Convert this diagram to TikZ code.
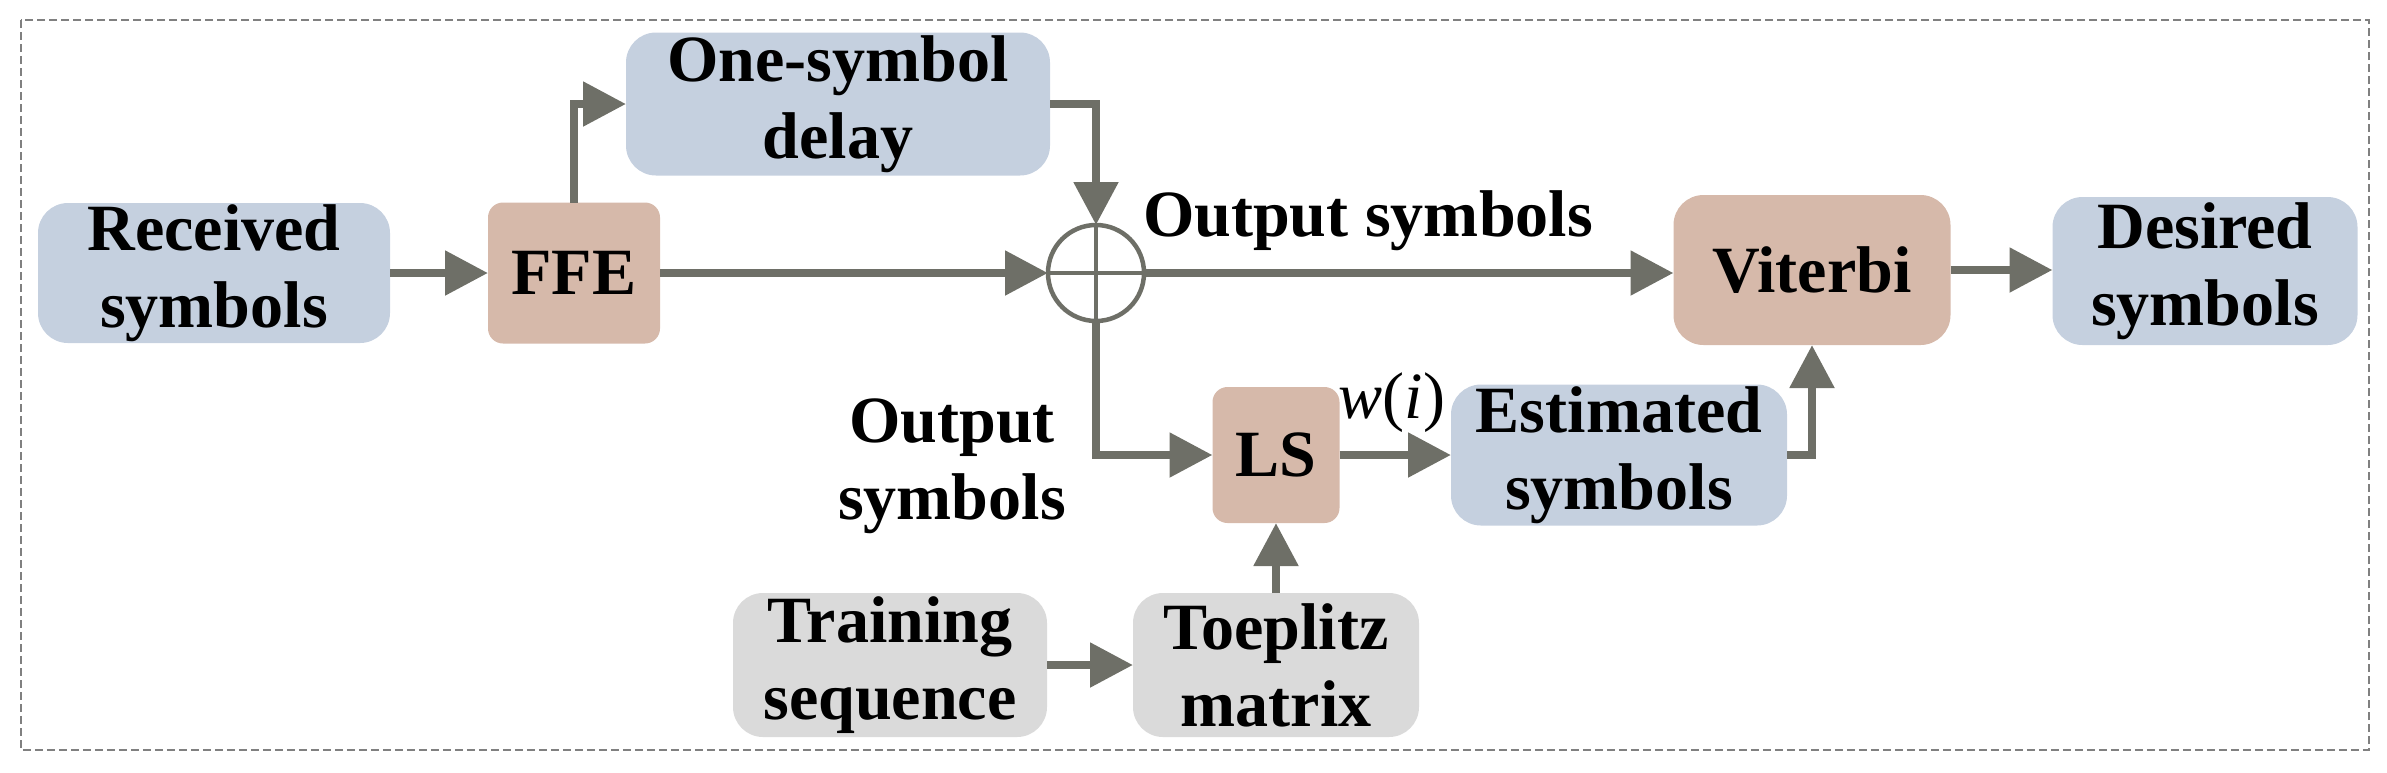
\documentclass[tikz,border=0pt]{standalone}
\usepackage{fontspec}
\setmainfont{Liberation Serif}
\usetikzlibrary{arrows.meta}
\definecolor{boxblue}{RGB}{197,208,223}
\definecolor{boxred}{RGB}{214,185,170}
\definecolor{boxgray}{RGB}{218,218,218}
\definecolor{linegray}{RGB}{110,111,103}
\begin{document}
\begin{tikzpicture}[x=0.1mm, y=-0.1mm,
    every node/.style={font=\fontsize{18.8}{21.9}\selectfont\bfseries, align=center, inner sep=0pt, outer sep=0pt},
    bluebox/.style={fill=boxblue, rounded corners=3mm},
    redbox/.style={fill=boxred, rounded corners=1.5mm},
    graybox/.style={fill=boxgray, rounded corners=3mm},
    flow/.style={draw=linegray, line width=0.85mm, -{Triangle[length=4.3mm, width=4.3mm]}}]
    \useasboundingbox (0, 0) rectangle (2387, 772);
    \draw[draw=gray, line width=0.2mm, dash pattern=on 0.8mm off 0.4mm] (21, 20) rectangle (2369, 750);

    \node[bluebox, minimum width=35.2mm, minimum height=14mm] (recv) at (214, 273) {Received\\symbols};
    \node[redbox, minimum width=17.2mm, minimum height=14.1mm] (ffe) at (574, 273) {FFE};
    \node[bluebox, minimum width=42.4mm, minimum height=14.3mm] (delay) at (838, 104) {One-symbol\\delay};
    \node[draw=linegray, line width=0.45mm, circle, minimum size=9.6mm] (sum) at (1096, 273) {};
    \draw[linegray, line width=0.45mm] (sum.north) -- (sum.south) (sum.west) -- (sum.east);
    \node (outtop) at (1368, 221) {Output symbols};
    \node[redbox, rounded corners=3mm, minimum width=27.7mm, minimum height=15mm] (viterbi) at (1812, 270) {Viterbi};
    \node[bluebox, minimum width=30.5mm, minimum height=14.8mm] (desired) at (2205, 271) {Desired\\symbols};
    \node (outleft) at (952, 466) {Output\\symbols};
    \node[redbox, minimum width=12.7mm, minimum height=13.6mm] (ls) at (1276, 455) {LS};
    \node[anchor=south] (wlabel) at (1392, 433) {\mdseries\itshape w\upshape(\itshape i\upshape)};
    \node[bluebox, minimum width=33.6mm, minimum height=14.1mm] (est) at (1619, 455) {Estimated\\symbols};
    \node[graybox, minimum width=31.4mm, minimum height=14.4mm] (train) at (890, 665) {Training\\sequence};
    \node[graybox, minimum width=28.6mm, minimum height=14.4mm] (toep) at (1276, 665) {Toeplitz\\matrix};

    \draw[flow] (recv) -- (ffe);
    \draw[flow] (ffe.north) |- (delay.west);
    \draw[flow] (delay.east) -| (sum.north);
    \draw[flow] (ffe) -- (sum);
    \draw[flow] (sum.east) -- (sum.east -| viterbi.west);
    \draw[flow] (viterbi) -- (desired.west |- viterbi);
    \draw[flow] (sum.south) |- (ls.west);
    \draw[flow] (ls) -- (est);
    \draw[flow] (est.east) -| (viterbi.south);
    \draw[flow] (train) -- (toep);
    \draw[flow] (toep) -- (ls);
\end{tikzpicture}
\end{document}
